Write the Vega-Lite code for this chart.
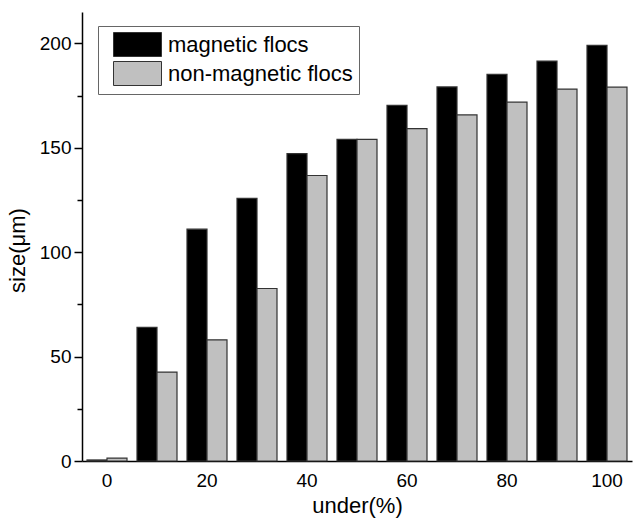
{
  "$schema": "https://vega.github.io/schema/vega-lite/v6.json",
  "width": 550,
  "height": 449,
  "autosize": {"type": "none"},
  "padding": {"left": 82, "top": 12, "right": 1, "bottom": 58},
  "background": "white",
  "config": {
    "font": "Liberation Sans",
    "view": {"stroke": null},
    "axis": {"domainColor": "black", "domainWidth": 1.5, "tickColor": "black", "tickWidth": 1.5, "labelColor": "black", "titleColor": "black", "titleFontWeight": "normal", "labelFontSize": 19, "titleFontSize": 22, "grid": false}
  },
  "data": {
    "values": [
      {"under": 0, "series": "magnetic flocs", "size": 0.5},
      {"under": 0, "series": "non-magnetic flocs", "size": 1.4},
      {"under": 10, "series": "magnetic flocs", "size": 64},
      {"under": 10, "series": "non-magnetic flocs", "size": 42.6},
      {"under": 20, "series": "magnetic flocs", "size": 111},
      {"under": 20, "series": "non-magnetic flocs", "size": 58},
      {"under": 30, "series": "magnetic flocs", "size": 125.8},
      {"under": 30, "series": "non-magnetic flocs", "size": 82.6},
      {"under": 40, "series": "magnetic flocs", "size": 147.2},
      {"under": 40, "series": "non-magnetic flocs", "size": 136.7},
      {"under": 50, "series": "magnetic flocs", "size": 154},
      {"under": 50, "series": "non-magnetic flocs", "size": 154},
      {"under": 60, "series": "magnetic flocs", "size": 170.3},
      {"under": 60, "series": "non-magnetic flocs", "size": 159.2},
      {"under": 70, "series": "magnetic flocs", "size": 179.1},
      {"under": 70, "series": "non-magnetic flocs", "size": 165.7},
      {"under": 80, "series": "magnetic flocs", "size": 185.2},
      {"under": 80, "series": "non-magnetic flocs", "size": 171.8},
      {"under": 90, "series": "magnetic flocs", "size": 191.5},
      {"under": 90, "series": "non-magnetic flocs", "size": 178.1},
      {"under": 100, "series": "magnetic flocs", "size": 199},
      {"under": 100, "series": "non-magnetic flocs", "size": 179}
    ]
  },
  "mark": {"type": "bar", "stroke": "#333", "strokeWidth": 1.2},
  "encoding": {
    "x": {
      "field": "under",
      "type": "ordinal",
      "scale": {"paddingInner": 0.2, "paddingOuter": 0.1},
      "axis": {
        "title": "under(%)",
        "labelAngle": 0,
        "labelExpr": "datum.value % 20 == 0 ? datum.label : ''",
        "ticks": false,
        "labelPadding": 10,
        "titlePadding": 5
      }
    },
    "xOffset": {"field": "series", "sort": ["magnetic flocs", "non-magnetic flocs"]},
    "y": {
      "field": "size",
      "type": "quantitative",
      "scale": {"domain": [0, 215], "nice": false},
      "axis": {
        "title": "size(μm)",
        "values": [0, 25, 50, 75, 100, 125, 150, 175, 200],
        "labelExpr": "datum.value % 50 == 0 ? datum.label : ''",
        "tickSize": {"condition": {"test": "datum.value % 50 != 0", "value": 5}, "value": 8},
        "labelPadding": 3,
        "titlePadding": 10,
        "titleY": 238
      }
    },
    "color": {
      "field": "series",
      "type": "nominal",
      "scale": {"domain": ["magnetic flocs", "non-magnetic flocs"], "range": ["#000000", "#c0c0c0"]},
      "legend": {
        "title": null,
        "orient": "none",
        "legendX": 16,
        "legendY": 14,
        "fillColor": "white",
        "strokeColor": "#666",
        "padding": 6,
        "symbolType": "M-2,-1H2V1H-2Z",
        "symbolSize": 576,
        "symbolStrokeColor": "#333",
        "symbolStrokeWidth": 1,
        "symbolOffset": 21,
        "labelFontSize": 22,
        "labelColor": "black",
        "labelOffset": 18,
        "labelLimit": 400,
        "rowPadding": 0
      }
    }
  }
}
